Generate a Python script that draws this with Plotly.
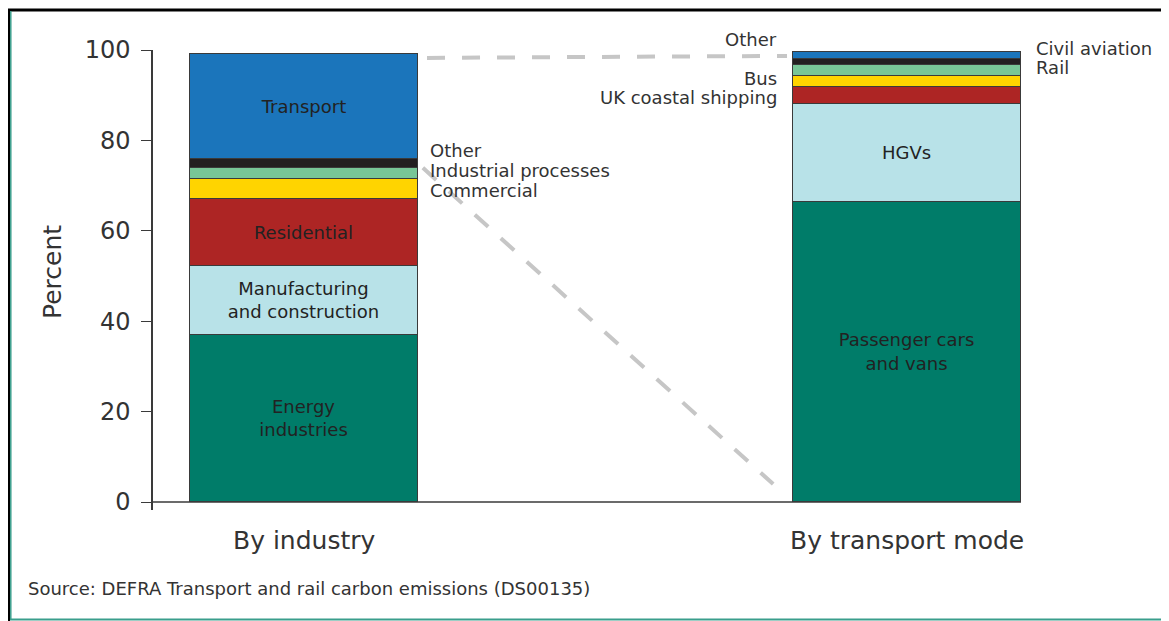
import plotly.graph_objects as go

# ---------------- data ----------------
industry_labels = ["Energy industries", "Manufacturing and construction", "Residential",
                   "Commercial", "Industrial processes", "Other", "Transport"]
industry_values = [36.9, 15.3, 14.8, 4.4, 2.4, 2.0, 23.3]
industry_text = ["Energy<br>industries", "Manufacturing<br>and construction", "Residential",
                 "", "", "", "Transport"]

mode_labels = ["Passenger cars and vans", "HGVs", "UK coastal shipping", "Bus",
               "Rail", "Civil aviation", "Other"]
mode_values = [66.4, 21.7, 3.8, 2.4, 2.4, 1.3, 1.5]
mode_text = ["Passenger cars<br>and vans", "HGVs", "", "", "", "", ""]

group_labels = ["By industry", "By transport mode"]
y_ticks = [0, 20, 40, 60, 80, 100]
source_text = "Source: DEFRA Transport and rail carbon emissions (DS00135)"

segment_colors = ["#007C69", "#B8E2E8", "#AD2524", "#FFD400", "#78C697", "#231F20", "#1B75BB"]

# ---------------- layout geometry (page pixels; page body has an 8px margin) ----------------
OFF = 8
W, H = 1169 - OFF, 621 - OFF
PLOT_L, PLOT_R, PLOT_T, PLOT_B = 153, 1021, 50, 510   # page coordinates of the plot area
ML, MT = PLOT_L - OFF, PLOT_T - OFF
MR, MB = W - (PLOT_R - OFF), H - (PLOT_B - OFF)
PW, PH = PLOT_R - PLOT_L, PLOT_B - PLOT_T
BAR_W = 0.378
X_RANGE = [-0.2504, 1.189]
Y_RANGE = [-1.77, 100]
FONT = "DejaVu Sans"
TXT = "#333333"


def px(x):
    return (x - PLOT_L) / PW


def py(y):
    return (PLOT_B - y) / PH


fig = go.Figure()

for xpos, labels, values, texts in [(0, industry_labels, industry_values, industry_text),
                                    (1, mode_labels, mode_values, mode_text)]:
    for lab, val, txt, col in zip(labels, values, texts, segment_colors):
        fig.add_trace(go.Bar(
            x=[xpos], y=[val], width=BAR_W, name=lab,
            marker=dict(color=col, line=dict(color="#3a3a3a", width=1)),
            text=[txt], textposition="inside", insidetextanchor="middle",
            textangle=0, constraintext="none",
            insidetextfont=dict(family=FONT, size=18, color="#222222"),
            hoverinfo="name+y", showlegend=False,
        ))

# ---------------- dashed connectors ----------------
left_total = sum(industry_values)
right_total = sum(mode_values)
transport_bottom = sum(industry_values[:-1])
left_edge = BAR_W / 2
right_edge = 1 - BAR_W / 2
dash = dict(color="#C6C6C6", width=4, dash="18px,17px")

fig.add_trace(go.Scatter(
    x=[left_edge + 0.015, right_edge - 0.01],
    y=[left_total - 0.85, right_total - 0.8],
    mode="lines", line=dash, hoverinfo="skip", showlegend=False))

x0, y0 = left_edge, transport_bottom - 0.9
x1, y1 = right_edge, 0.0
t0, t1 = 0.013, 0.947
fig.add_trace(go.Scatter(
    x=[x0 + (x1 - x0) * t0, x0 + (x1 - x0) * t1],
    y=[y0 + (y1 - y0) * t0, y0 + (y1 - y0) * t1],
    mode="lines", line=dash, hoverinfo="skip", showlegend=False))

# ---------------- annotations ----------------
ann = []
lab_font = dict(family=FONT, size=18, color=TXT)
for text, xp, yp, anchor in [
    ("Other", 428, 150, "left"),
    ("Industrial processes", 428, 170, "left"),
    ("Commercial", 428, 190, "left"),
    ("Other", 779, 40, "right"),
    ("Bus", 779, 79, "right"),
    ("UK coastal shipping", 779, 98, "right"),
    ("Civil aviation", 1034, 48, "left"),
    ("Rail", 1034, 67, "left"),
]:
    ann.append(dict(x=px(xp), y=py(yp), xref="paper", yref="paper", text=text,
                    showarrow=False, xanchor=anchor, yanchor="middle", font=lab_font))
for xpos, text in zip([0, 1], group_labels):
    ann.append(dict(x=xpos, y=py(540), xref="x", yref="paper", text=text, showarrow=False,
                    xanchor="center", yanchor="middle",
                    font=dict(family=FONT, size=25, color=TXT)))
ann.append(dict(x=px(52), y=py(272), xref="paper", yref="paper", text="Percent",
                textangle=-90, showarrow=False, xanchor="center", yanchor="middle",
                font=dict(family=FONT, size=25, color=TXT)))
ann.append(dict(x=px(26), y=py(588), xref="paper", yref="paper", text=source_text,
                showarrow=False, xanchor="left", yanchor="middle",
                font=dict(family=FONT, size=18, color=TXT)))

# ---------------- shapes: baseline + frame ----------------
shapes = [
    dict(type="line", xref="x", yref="y", x0=X_RANGE[0], x1=right_edge + BAR_W, y0=0, y1=0,
         line=dict(color="#3a3a3a", width=1.5), layer="below"),
]
frame = [
    ((9, 9), (9, 621), "#000000", 2),
    ((8, 10), (1168, 10), "#000000", 3),
    ((1168, 9), (1168, 621), "#000000", 2),
    ((10.8, 11), (10.8, 619), "#3A9E8C", 1.5),
    ((10, 619.5), (1166, 619.5), "#3A9E8C", 2),
    ((1165.5, 11), (1165.5, 619), "#3A9E8C", 1.5),
]
for (xa, ya), (xb, yb), col, w in frame:
    shapes.append(dict(type="line", xref="paper", yref="paper",
                       x0=px(xa), y0=py(ya), x1=px(xb), y1=py(yb),
                       line=dict(color=col, width=w)))

fig.update_layout(
    width=W, height=H,
    margin=dict(l=ML, r=MR, t=MT, b=MB, pad=0),
    barmode="stack", bargap=0,
    plot_bgcolor="white", paper_bgcolor="white",
    showlegend=False,
    xaxis=dict(range=X_RANGE, showticklabels=False, showline=False, showgrid=False,
               zeroline=False, ticks="", fixedrange=True),
    yaxis=dict(range=Y_RANGE, tickvals=y_ticks, ticks="outside", ticklen=10,
               tickcolor="#3a3a3a", tickwidth=1, showline=True, linecolor="#3a3a3a",
               linewidth=1.5, showgrid=False, zeroline=False, ticklabelstandoff=6,
               tickfont=dict(family=FONT, size=24, color=TXT), fixedrange=True),
    annotations=ann,
    shapes=shapes,
)

fig.write_html("out.html")
